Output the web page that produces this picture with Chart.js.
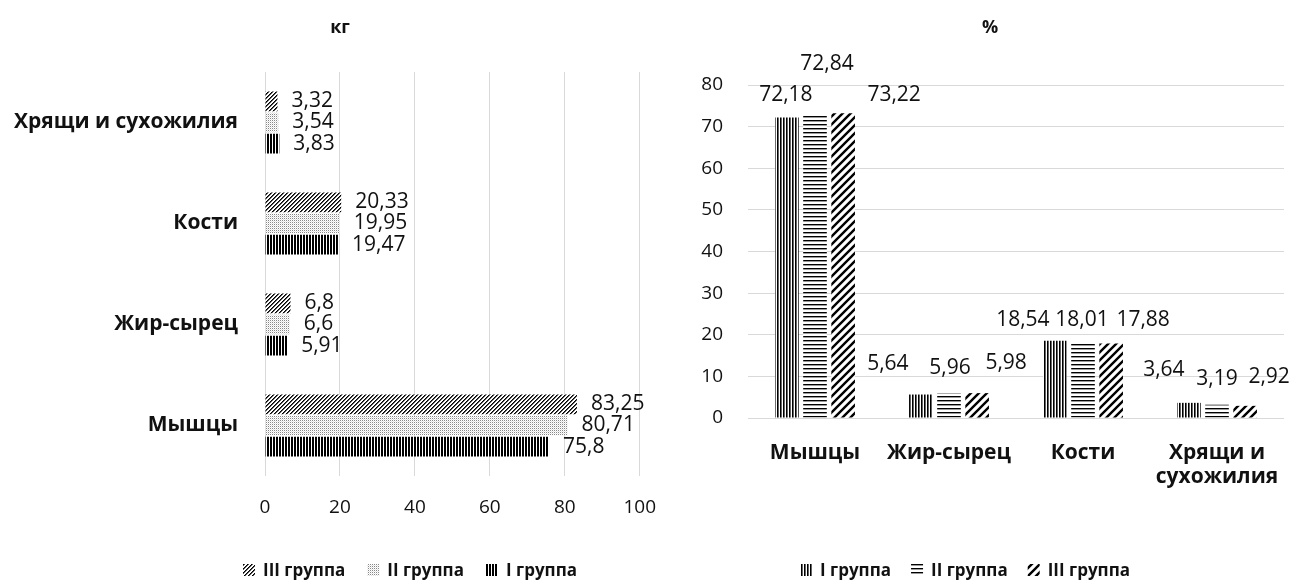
<!DOCTYPE html>
<html lang="ru">
<head>
<meta charset="UTF-8">
<title>Морфологический состав туш</title>
<script src="https://cdn.jsdelivr.net/npm/chart.js"></script>
<style>
  body { margin: 0; background: #fff; overflow: hidden; }
  .wrap { position: relative; width: 1304px; height: 581px; }
  .left { position: absolute; left: 0; top: 0; width: 676px; height: 581px; }
  .right { position: absolute; left: 660px; top: 0; width: 644px; height: 581px; }
</style>
</head>
<body>
<div class="wrap">
  <div class="left"><canvas id="chartKg"></canvas></div>
  <div class="right"><canvas id="chartPct"></canvas></div>
</div>

<script>
// категории и группы
const categories = ['Мышцы', 'Жир-сырец', 'Кости', 'Хрящи и сухожилия'];
const groupNames = ['I группа', 'II группа', 'III группа'];

// масса, кг
const kgI = [75.8, 5.91, 19.47, 3.83];
const kgII = [80.71, 6.6, 19.95, 3.54];
const kgIII = [83.25, 6.8, 20.33, 3.32];

// доля, %
const pctI = [72.18, 5.64, 18.54, 3.64];
const pctII = [72.84, 5.96, 18.01, 3.19];
const pctIII = [73.22, 5.98, 17.88, 2.92];

const kgTicks = [0, 20, 40, 60, 80, 100];
const pctTicks = [0, 10, 20, 30, 40, 50, 60, 70, 80];

const FONT = '"Open Sans", "Noto Sans", sans-serif';
const TXT = '#111';
const GRID = '#d9d9d9';

// штриховки как в Excel
function pattern(kind) {
    const c = document.createElement('canvas');
    const x = c.getContext('2d');
    if (kind === 'vertDense') {
        c.width = 3; c.height = 3;
        x.fillStyle = '#fff'; x.fillRect(0, 0, 3, 3);
        x.fillStyle = '#000'; x.fillRect(0, 0, 2, 3);
    } else if (kind === 'dots') {
        c.width = 2; c.height = 2;
        x.fillStyle = '#fff'; x.fillRect(0, 0, 2, 2);
        x.fillStyle = '#888'; x.fillRect(0, 0, 1, 1);
        x.fillStyle = '#e2e2e2'; x.fillRect(1, 1, 1, 1);
    } else if (kind === 'diagDense') {
        c.width = 4; c.height = 4;
        x.fillStyle = '#fff'; x.fillRect(0, 0, 4, 4);
        for (let i = 0; i < 4; i++) {
            x.fillStyle = '#000'; x.fillRect(i, 3 - i, 1, 1);
            x.fillStyle = '#555'; x.fillRect(i, (4 - i) % 4, 1, 1);
        }
    } else if (kind === 'vert') {
        c.width = 3; c.height = 3;
        x.fillStyle = '#fff'; x.fillRect(0, 0, 3, 3);
        x.fillStyle = '#000'; x.fillRect(0, 0, 1, 3);
        x.fillStyle = '#666'; x.fillRect(1, 0, 1, 3);
    } else if (kind === 'horiz') {
        c.width = 4; c.height = 4;
        x.fillStyle = '#fff'; x.fillRect(0, 0, 4, 4);
        x.fillStyle = '#000'; x.fillRect(0, 0, 4, 1);
        x.fillStyle = '#999'; x.fillRect(0, 1, 4, 1);
    } else if (kind === 'diagWide') {
        c.width = 8; c.height = 8;
        x.fillStyle = '#fff'; x.fillRect(0, 0, 8, 8);
        x.strokeStyle = '#000'; x.lineWidth = 2.4;
        x.beginPath();
        x.moveTo(-1, 9); x.lineTo(9, -1);
        x.moveTo(-1, 1); x.lineTo(1, -1);
        x.moveTo(7, 9); x.lineTo(9, 7);
        x.stroke();
    }
    return x.createPattern(c, 'repeat');
}

const fmt = v => String(v).replace('.', ',');

// подписи значений у столбиков
const barLabels = {
    id: 'barLabels',
    afterDatasetsDraw(chart, args, opts) {
        const ctx = chart.ctx;
        ctx.save();
        ctx.font = opts.font;
        ctx.fillStyle = TXT;
        ctx.textBaseline = 'middle';
        chart.data.datasets.forEach((ds, di) => {
            chart.getDatasetMeta(di).data.forEach((bar, i) => {
                const t = fmt(ds.data[i]);
                if (chart.options.indexAxis === 'y') {
                    ctx.textAlign = 'left';
                    ctx.fillText(t, bar.x + opts.gap, bar.y);
                } else {
                    const off = opts.offsets[di][i];
                    ctx.textAlign = 'center';
                    ctx.fillText(t, bar.x + off[0], bar.y - off[1]);
                }
            });
        });
        ctx.restore();
    }
};

// заголовок и легенда
const decor = {
    id: 'decor',
    afterDraw(chart, args, opts) {
        const ctx = chart.ctx;
        ctx.save();
        ctx.fillStyle = TXT;
        ctx.textBaseline = 'middle';
        ctx.textAlign = 'center';
        ctx.font = 'bold 18px ' + FONT;
        ctx.fillText(opts.title, opts.titleX, opts.titleY);

        ctx.font = 'bold 17px ' + FONT;
        const items = opts.order.map(i => chart.data.datasets[i]);
        const w = items.map(ds => 20 + ctx.measureText(ds.label).width);
        const total = w.reduce((a, b) => a + b, 0) + opts.gap * (items.length - 1);
        let x = opts.legendX - total / 2;
        ctx.textAlign = 'left';
        items.forEach((ds, k) => {
            ctx.fillStyle = ds.backgroundColor;
            ctx.fillRect(x, opts.legendY - 6, 12, 12);
            ctx.fillStyle = TXT;
            ctx.fillText(ds.label, x + 20, opts.legendY + 1);
            x += w[k] + opts.gap;
        });
        ctx.restore();
    }
};

// ---- кг, горизонтальные полосы (III сверху, I снизу) ----
new Chart(document.getElementById('chartKg'), {
    type: 'bar',
    data: {
        labels: categories,
        datasets: [
            { label: groupNames[2], data: kgIII, backgroundColor: pattern('diagDense') },
            { label: groupNames[1], data: kgII, backgroundColor: pattern('dots') },
            { label: groupNames[0], data: kgI, backgroundColor: pattern('vertDense') }
        ]
    },
    options: {
        indexAxis: 'y',
        responsive: true,
        maintainAspectRatio: false,
        animation: false,
        layout: { padding: { top: 72, right: 0, bottom: 0, left: 0 } },
        datasets: { bar: { categoryPercentage: 0.63, barPercentage: 0.93, borderWidth: 0 } },
        scales: {
            x: {
                min: 0, max: 100,
                afterBuildTicks: s => { s.ticks = kgTicks.map(v => ({ value: v })); },
                grid: { color: GRID, drawTicks: false },
                border: { display: false },
                ticks: { color: TXT, padding: 20, font: { family: FONT, size: 19 } },
                afterFit: s => { s.height = 105; }
            },
            y: {
                reverse: true,
                grid: { display: false },
                border: { display: false },
                ticks: { color: TXT, padding: 19, font: { family: FONT, size: 21, weight: 'bold' } },
                afterFit: s => { s.width = 265; }
            }
        },
        plugins: {
            legend: { display: false },
            tooltip: { enabled: false },
            barLabels: { font: '21px ' + FONT, gap: 14 },
            decor: { title: 'кг', titleX: 340, titleY: 28, order: [0, 1, 2], legendX: 410, legendY: 570, gap: 22 }
        }
    },
    plugins: [barLabels, decor]
});

// ---- %, вертикальные столбцы ----
// смещения подписей (dx, над верхом столбика), как на исходной диаграмме
const pctLabelOffsets = [
    [[-1, 23], [-33, 31], [-32, 21], [-25, 33]],
    [[12, 51], [1, 25], [-1, 23], [0, 26]],
    [[51, 18], [29, 30], [32, 24], [24, 29]]
];

new Chart(document.getElementById('chartPct'), {
    type: 'bar',
    data: {
        labels: categories.map(c => c === 'Хрящи и сухожилия' ? ['Хрящи и', 'сухожилия'] : c),
        datasets: [
            { label: groupNames[0], data: pctI, backgroundColor: pattern('vert') },
            { label: groupNames[1], data: pctII, backgroundColor: pattern('horiz') },
            { label: groupNames[2], data: pctIII, backgroundColor: pattern('diagWide') }
        ]
    },
    options: {
        responsive: true,
        maintainAspectRatio: false,
        animation: false,
        layout: { padding: { top: 85, right: 20, bottom: 0, left: 0 } },
        datasets: { bar: { categoryPercentage: 0.63, barPercentage: 0.84, borderWidth: 0 } },
        scales: {
            x: {
                grid: { display: false },
                border: { display: false },
                ticks: { color: TXT, padding: 15, maxRotation: 0, font: { family: FONT, size: 21, weight: 'bold', lineHeight: 1.15 } },
                afterFit: s => { s.height = 163; }
            },
            y: {
                min: 0, max: 80,
                afterBuildTicks: s => { s.ticks = pctTicks.map(v => ({ value: v })); },
                grid: { color: GRID, drawTicks: false },
                border: { display: false },
                ticks: { color: TXT, padding: 25, font: { family: FONT, size: 19 } },
                afterFit: s => { s.width = 88; }
            }
        },
        plugins: {
            legend: { display: false },
            tooltip: { enabled: false },
            barLabels: { font: '21px ' + FONT, offsets: pctLabelOffsets },
            decor: { title: '%', titleX: 330, titleY: 28, order: [0, 1, 2], legendX: 305, legendY: 570, gap: 20 }
        }
    },
    plugins: [barLabels, decor]
});
</script>
</body>
</html>
